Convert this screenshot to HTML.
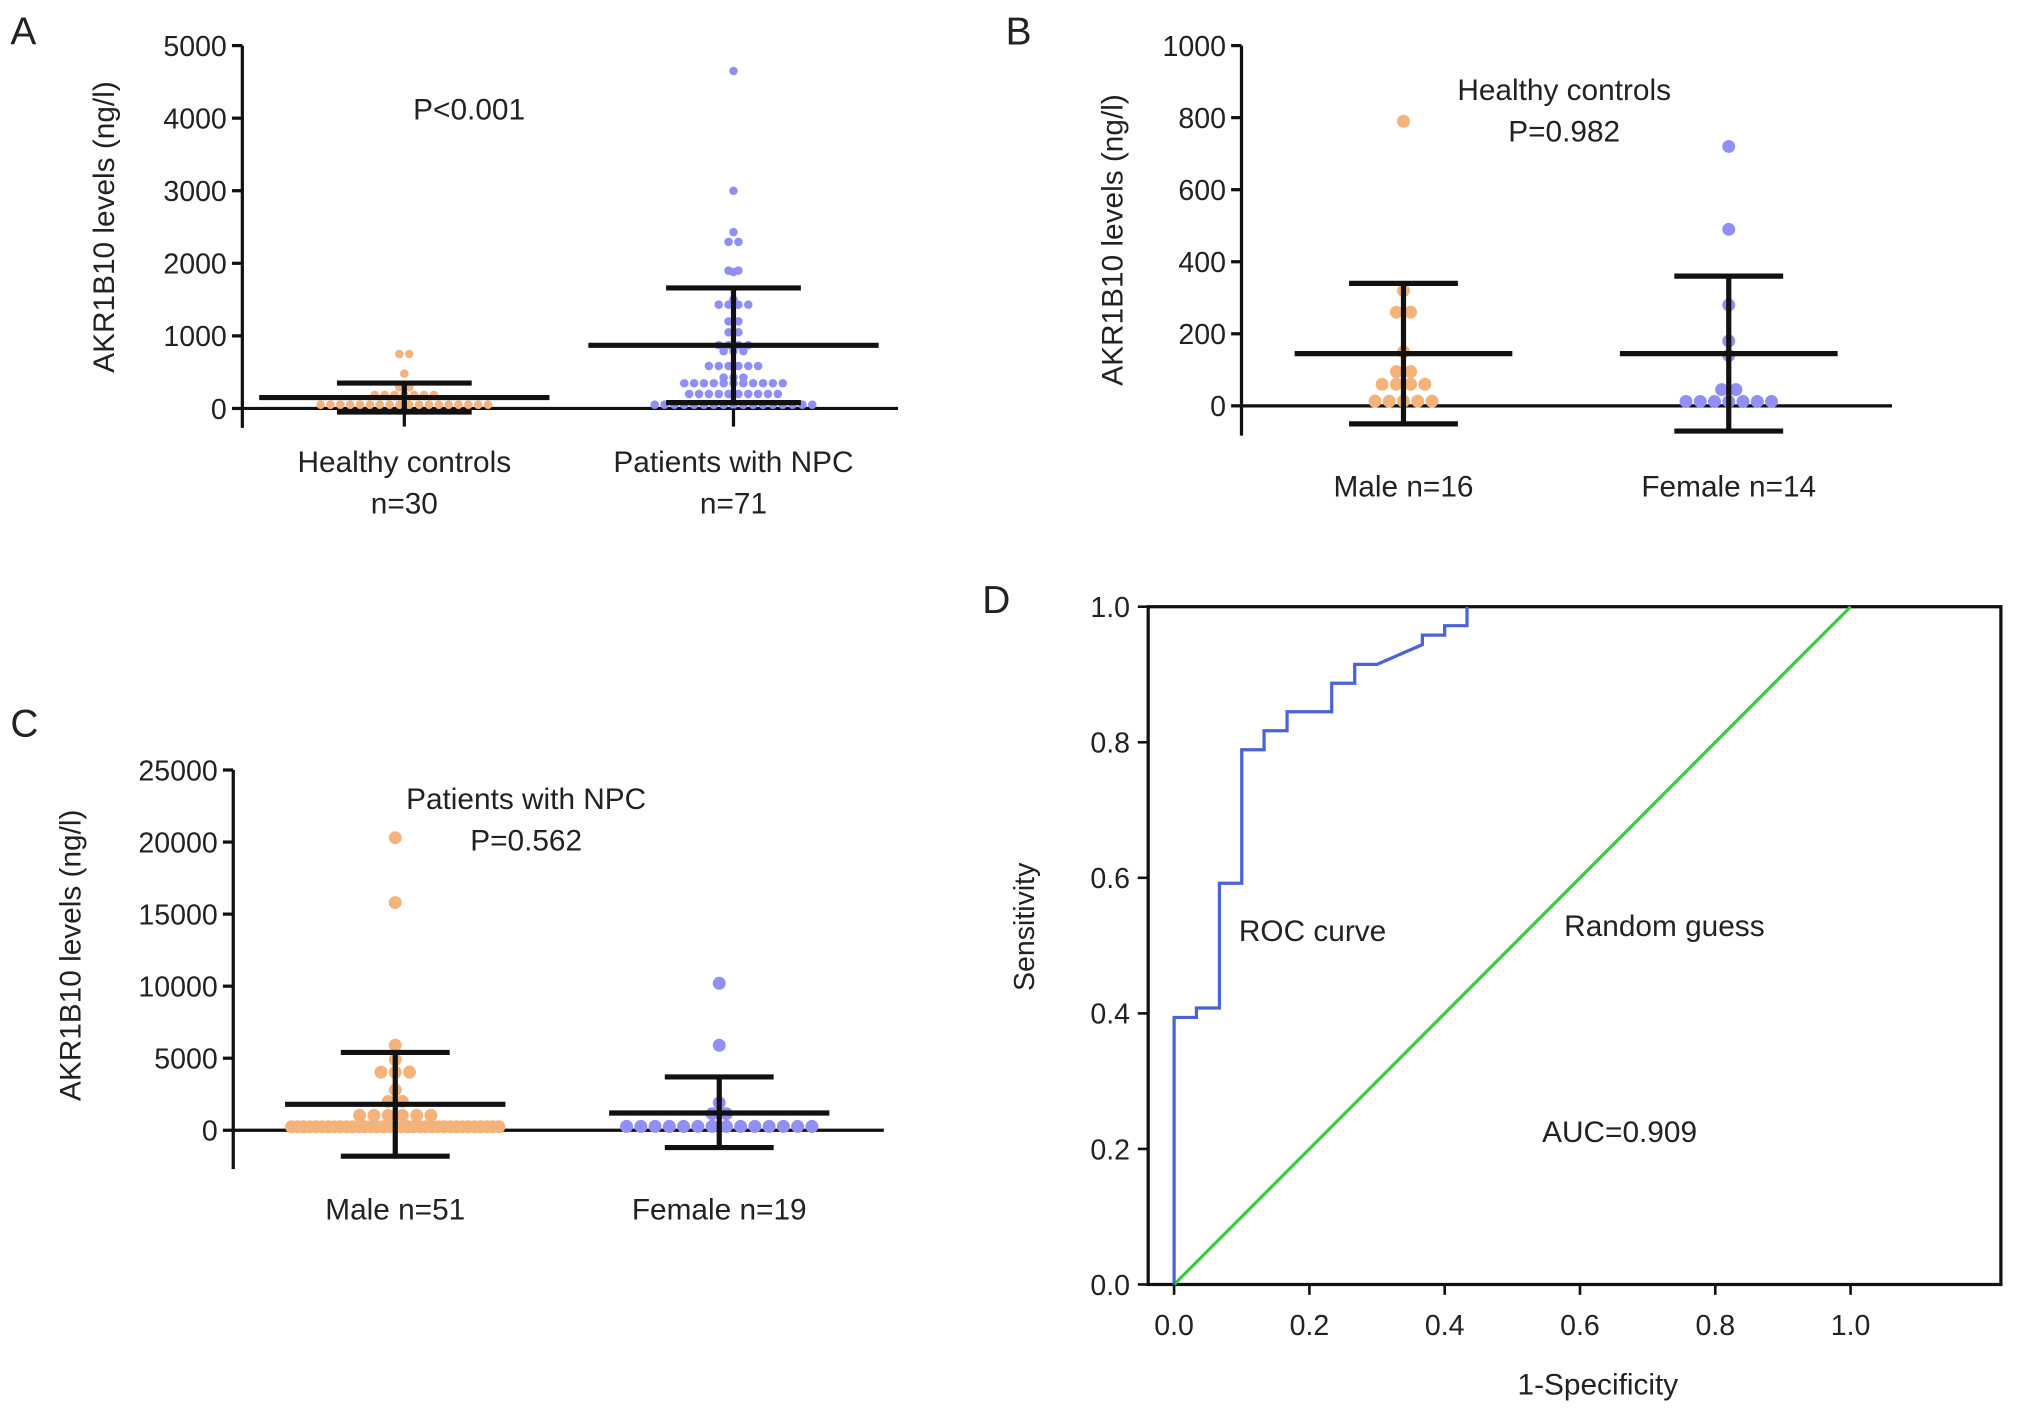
<!DOCTYPE html>
<html><head><meta charset="utf-8"><style>
html,body{margin:0;padding:0;background:#fff}
svg{display:block}
text{font-family:"Liberation Sans",sans-serif;fill:#222}
</style></head><body>
<svg id="fig" width="2032" height="1413" viewBox="0 0 1568 1090" xmlns="http://www.w3.org/2000/svg">
<g id="root"></g>
</svg>
<script>
// Panel A data
const aCategories = ["Healthy controls", "Patients with NPC"];
const aHealthy = [780,720,480,300,280,250,220,200,180,160,150,140,120,110,100,90,80,70,60,50,50,40,40,30,30,20,20,10,10,5];
const aPatients = [4650,3000,2430,2300,2290,1900,1900,1880,1500,1450,1450,1420,1400,1200,1200,1050,1050,900,880,860,850,800,790,780,620,600,600,580,560,550,450,420,410,400,390,380,370,360,350,340,330,320,300,280,260,250,240,220,200,200,180,160,150,140,120,100,90,80,70,60,60,50,50,40,40,30,30,20,20,10,10];
const aStats = [[150,350,-50],[870,1660,80]]; // mean, upper, lower
const aTicks = [0,1000,2000,3000,4000,5000];
// Panel B data
const bMale = [790,320,270,250,150,100,90,70,60,60,50,30,20,10,5,0];
const bFemale = [720,490,280,180,140,50,40,30,20,15,10,5,5,0];
const bStats = [[145,340,-50],[145,360,-70]];
const bTicks = [0,200,400,600,800,1000];
// Panel C data
const cMale = [20300,15800,5900,4900,4300,4000,3800,2800,2200,1800,1500,1200,1000,900,800,800,700,700,600,600,500,500,500,400,400,400,300,300,300,300,200,200,200,200,200,150,150,100,100,100,100,80,60,50,50,40,30,20,10,5,0];
const cFemale = [10200,5900,1900,1400,900,700,500,500,400,400,300,300,200,200,100,100,50,0,0];
const cStats = [[1800,5400,-1800],[1200,3700,-1200]];
const cTicks = [0,5000,10000,15000,20000,25000];
// Panel D data
const rocFpr = [0,0,0.033,0.033,0.067,0.067,0.1,0.1,0.133,0.133,0.167,0.167,0.233,0.233,0.267,0.267,0.3,0.367,0.367,0.4,0.4,0.433,0.433];
const rocTpr = [0,0.394,0.394,0.408,0.408,0.592,0.592,0.789,0.789,0.817,0.817,0.845,0.845,0.887,0.887,0.915,0.915,0.944,0.958,0.958,0.972,0.972,1.0];
const dTicks = [0,0.2,0.4,0.6,0.8,1.0];

const NS="http://www.w3.org/2000/svg";
const root=document.getElementById('root');
function el(tag,attrs,parent){const e=document.createElementNS(NS,tag);for(const k in attrs)e.setAttribute(k,attrs[k]);(parent||root).appendChild(e);return e;}
function txt(s,x,y,size,anchor,parent,rot){const t=el('text',{x:x,y:y,'font-size':size,'text-anchor':anchor||'middle'},parent);if(rot)t.setAttribute('transform',`rotate(-90 ${x} ${y})`);t.textContent=s;return t;}

// binned dot layout with capped width
function dotLayout(vals,cx,yf,r,maxHalf){
  const binH=2*r+1;const bins={};
  vals.forEach(v=>{const y=yf(v);const b=Math.round(y/binH);(bins[b]=bins[b]||[]).push(y);});
  const pts=[];
  for(const b in bins){const ys=bins[b];const n=ys.length;
    const yc=ys.reduce((s,y)=>s+y,0)/n;
    let sp=2*r+1; if((n-1)*sp/2>maxHalf) sp=2*maxHalf/(n-1);
    ys.forEach((y,i)=>{pts.push([cx+(i-(n-1)/2)*sp,yc]);});}
  return pts;
}

function scatterPanel(o){
  const g=el('g',{});
  
  
  const yf=v=>o.y0+(v-o.ymin)/(o.ymax-o.ymin)*(o.yTop-o.y0);
  const yZero=yf(0);
  const ya=el('line',{x1:o.ax,y1:o.yTop,x2:o.ax,y2:o.axBottom,stroke:'#111','stroke-width':2.5},g);
  
  const xa=el('line',{x1:o.ax,y1:yZero,x2:o.xEnd,y2:yZero,stroke:'#111','stroke-width':2.5},g);
  
  o.ticks.forEach(t=>{const y=yf(t);
    const tl=el('line',{x1:o.ax-8,y1:y,x2:o.ax,y2:y,stroke:'#111','stroke-width':2.5},g);
    
    const tt=txt(String(t),o.ax-12,y+8,22,'end',g);
    });
  const yl=txt('AKR1B10 levels (ng/l)',o.ylx,o.yly,23,'middle',g,true);
  
  o.groups.forEach((gr,i)=>{
    const pts=dotLayout(gr.vals,gr.cx,yf,o.r,o.spread);
    pts.forEach(p=>{const c=el('circle',{cx:p[0],cy:p[1],r:o.r,fill:gr.color},g);
      });
    const [m,u,l]=gr.stats;
    const lines=[[gr.cx-o.mw,yf(m),gr.cx+o.mw,yf(m),'mean-line'],[gr.cx-o.cw,yf(u),gr.cx+o.cw,yf(u),'sd-cap-upper'],[gr.cx-o.cw,yf(l),gr.cx+o.cw,yf(l),'sd-cap-lower'],[gr.cx,yf(u),gr.cx,yf(l),'error-bar']];
    lines.forEach(L=>{const e=el('line',{x1:L[0],y1:L[1],x2:L[2],y2:L[3],stroke:'#111','stroke-width':4},g);
      });
    const xt=el('line',{x1:gr.cx,y1:yZero,x2:gr.cx,y2:yZero+o.tickLen,stroke:'#111','stroke-width':2.5},g);
    
    gr.labels.forEach((s,j)=>{const t=txt(s,gr.cx,o.labY+j*32,23,'middle',g);
      });
  });
  o.notes.forEach(n=>{const t=txt(n[0],n[1],n[2],23,'middle',g);
    });
  const pl=txt(o.letter,o.lx,o.ly,30,'start',g);
  
}

const orange='#f4b37a', blue='#8f8ff5';
scatterPanel({name:'panel-a',ax:187,yTop:35,y0:315,ymin:0,ymax:5000,axBottom:330,xEnd:693,ticks:aTicks,r:3.3,spread:85,mw:112,cw:52,tickLen:14,
  ylx:88,yly:175,labY:364,letter:'A',lx:8,ly:34,notes:[['P<0.001',362,92]],
  groups:[{vals:aHealthy,cx:312,color:orange,stats:aStats[0],labels:[aCategories[0],'n=30']},
          {vals:aPatients,cx:566,color:blue,stats:aStats[1],labels:[aCategories[1],'n=71']}]});
scatterPanel({name:'panel-b',ax:958,yTop:35,y0:313,ymin:0,ymax:1000,axBottom:336,xEnd:1460,ticks:bTicks,r:5,spread:62,mw:84,cw:42,tickLen:0,
  ylx:866,yly:185,labY:383,letter:'B',lx:776,ly:34,notes:[['Healthy controls',1207,77],['P=0.982',1207,109]],
  groups:[{vals:bMale,cx:1083,color:orange,stats:bStats[0],labels:['Male n=16']},
          {vals:bFemale,cx:1334,color:blue,stats:bStats[1],labels:['Female n=14']}]});
scatterPanel({name:'panel-c',ax:180,yTop:594,y0:872,ymin:0,ymax:25000,axBottom:902,xEnd:682,ticks:cTicks,r:5,spread:80,mw:85,cw:42,tickLen:0,
  ylx:62,yly:737,labY:941,letter:'C',lx:8,ly:568,notes:[['Patients with NPC',406,624],['P=0.562',406,656]],
  groups:[{vals:cMale,cx:305,color:orange,stats:cStats[0],labels:['Male n=51']},
          {vals:cFemale,cx:555,color:blue,stats:cStats[1],labels:['Female n=19']}]});

// Panel D
(function(){
  const g=el('g',{});
  
  
  const xf=v=>906+v*(1428-906), yf=v=>991-v*(991-468);
  const box=el('rect',{x:886,y:468,width:658,height:523,fill:'none',stroke:'#111','stroke-width':2.5},g);
  
  dTicks.forEach(t=>{
    const a=el('line',{x1:xf(t),y1:991,x2:xf(t),y2:999,stroke:'#111','stroke-width':2},g);
    
    const at=txt(t.toFixed(1),xf(t),1030,22,'middle',g);
    
    const b=el('line',{x1:878,y1:yf(t),x2:886,y2:yf(t),stroke:'#111','stroke-width':2},g);
    
    const bt=txt(t.toFixed(1),872,yf(t)+8,22,'end',g);
    
  });
  const diag=el('line',{x1:xf(0),y1:yf(0),x2:xf(1),y2:yf(1),stroke:'#3ccc3c','stroke-width':2.5},g);
  
  const pts=rocFpr.map((f,i)=>xf(f)+','+yf(rocTpr[i])).join(' ');
  const roc=el('polyline',{points:pts,fill:'none',stroke:'#4a63d6','stroke-width':2.5},g);
  
  [['ROC curve',956,726,'start','roc-label'],['Random guess',1207,722,'start','random-guess-label'],['AUC=0.909',1190,881,'start','auc-label'],['1-Specificity',1233,1076,'middle','x-axis-title']].forEach(a=>{
    const t=txt(a[0],a[1],a[2],23,a[3],g);
    });
  const st=txt('Sensitivity',798,715,22,'middle',g,true);
  
  const pl=txt('D',758,473,30,'start',g);
  
})();
</script>
</body></html>
